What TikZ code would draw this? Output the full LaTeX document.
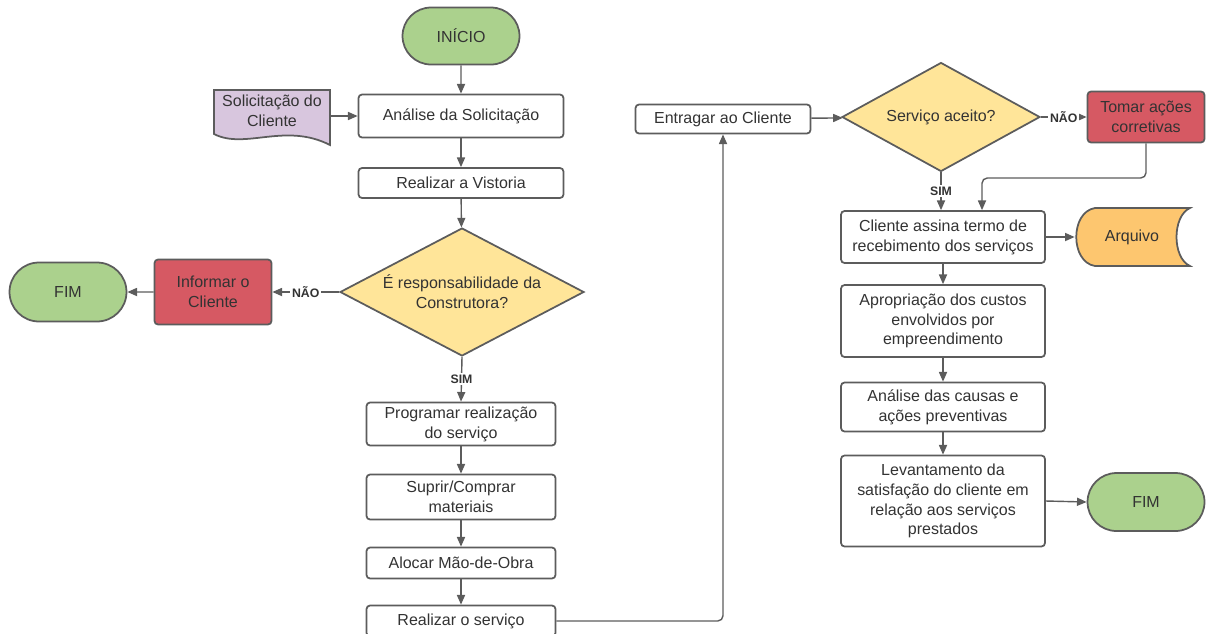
\documentclass[tikz,border=0pt]{standalone}
\usepackage{fontspec}
\setmainfont{Liberation Sans}
\usepackage{xcolor}
\usepackage{tikz}
\usetikzlibrary{%
  shapes.geometric,
  shapes.misc,
  arrows.meta,
  positioning,
  calc}
\definecolor{termgreen}{RGB}{171,209,141}
\definecolor{actred}{RGB}{214,89,99}
\definecolor{decyellow}{RGB}{255,229,153}
\definecolor{docpurple}{RGB}{216,198,222}
\definecolor{arqorange}{RGB}{253,198,111}
\definecolor{linegray}{RGB}{92,92,92}
\definecolor{textgray}{RGB}{51,51,51}
\tikzset{
  %% Plain process boxes
  procbox/.style={
    rectangle, rounded corners=2pt,
    draw=linegray, fill=white, line width=1pt,
    align=center, inner sep=0pt, text=textgray,
    font=\fontsize{9.1}{11.3}\selectfont},
  %% Corrective / warning boxes
  actbox/.style={
    procbox, fill=actred},
  %% Start / end terminals
  termbox/.style={
    rounded rectangle, draw=linegray, fill=termgreen,
    line width=1pt, inner sep=0pt, text=textgray,
    minimum width=2.34cm, minimum height=1.14cm,
    font=\fontsize{9.1}{11.3}\selectfont},
  %% Decision diamond
  decbox/.style={
    diamond, draw=linegray, fill=decyellow,
    line width=1pt, inner sep=0pt, align=center, text=textgray,
    font=\fontsize{9.1}{11.3}\selectfont},
  %% Free text on drawn shapes
  shapetext/.style={
    align=center, inner sep=0pt, text=textgray,
    font=\fontsize{9.1}{11.3}\selectfont},
  shapeline/.style={draw=linegray, line width=1pt},
  %% Arrows and their labels
  arrow/.style={-{Triangle[length=5.5pt,width=4.6pt]}, line width=0.8pt, linegray},
  plainline/.style={line width=0.8pt, linegray},
  yesno/.style={fill=white, inner sep=1pt, text=textgray,
    font=\fontsize{7}{8}\selectfont\bfseries},
}
\begin{document}
\begin{tikzpicture}[x=0.02cm, y=-0.02cm]

  \useasboundingbox (0,0) rectangle (1206,633);

  %% Left column
  \node[termbox] (ini) at (461,36) {INÍCIO};

  \draw[shapeline, fill=docpurple] (214,134) -- (214,90) -- (330,90) -- (330,145)
        .. controls (285,122) and (245,150) .. (214,134) -- cycle;
  \node[shapetext, minimum width=2.32cm] (sol) at (272,111)
        {Solicitação do\\ Cliente};

  \node[procbox, minimum width=4.1cm, minimum height=0.86cm] (ana) at (461,116)
        {Análise da Solicitação};

  \node[procbox, minimum width=4.1cm, minimum height=0.6cm] (vist) at (461,183)
        {Realizar a Vistoria};

  \node[decbox, aspect=1.9, minimum width=4.88cm, minimum height=2.56cm] (resp) at (462,292)
        {É responsabilidade da\\ Construtora?};

  \node[actbox, minimum width=2.34cm, minimum height=1.3cm] (inf) at (213,292)
        {Informar o\\ Cliente};

  \node[termbox, minimum height=1.18cm] (fima) at (68,292) {FIM};

  \node[procbox, minimum width=3.78cm, minimum height=0.86cm] (prog) at (461,424)
        {Programar realização\\ do serviço};

  \node[procbox, minimum width=3.78cm, minimum height=0.9cm] (sup) at (461,497)
        {Suprir/Comprar\\ materiais};

  \node[procbox, minimum width=3.78cm, minimum height=0.62cm] (aloc) at (461,563)
        {Alocar Mão-de-Obra};

  \node[procbox, minimum width=3.78cm, minimum height=0.62cm] (real) at (461,621)
        {Realizar o serviço};

  %% Right part
  \node[procbox, minimum width=3.5cm, minimum height=0.58cm] (ent) at (723,119)
        {Entragar ao Cliente};

  \node[decbox, aspect=1.82, minimum width=3.96cm, minimum height=2.18cm] (aceito) at (941,117)
        {Serviço aceito?};

  \node[actbox, minimum width=2.34cm, minimum height=1.02cm] (tom) at (1146,117)
        {Tomar ações\\ corretivas};

  \node[procbox, minimum width=4.08cm, minimum height=1.04cm] (cli) at (943,237)
        {Cliente assina termo de\\ recebimento dos serviços};

  \draw[shapeline, fill=arqorange] (1095,208) -- (1190,208)
        .. controls (1172,216) and (1172,258) .. (1190,266) -- (1095,266)
        .. controls (1070,262) and (1070,212) .. (1095,208) -- cycle;
  \node[shapetext, minimum width=2.28cm, minimum height=1.16cm] (arq) at (1132,237)
        {Arquivo};

  \node[procbox, minimum width=4.08cm, minimum height=1.44cm] (apr) at (943,321)
        {Apropriação dos custos\\ envolvidos por\\ empreendimento};

  \node[procbox, minimum width=4.08cm, minimum height=0.98cm] (caus) at (943,407)
        {Análise das causas e\\ ações preventivas};

  \node[procbox, minimum width=4.08cm, minimum height=1.82cm] (lev) at (943,501)
        {Levantamento da\\ satisfação do cliente em\\ relação aos serviços\\ prestados};

  \node[termbox, minimum height=1.16cm] (fimb) at (1146,502) {FIM};

  %% Main flow
  \draw[arrow] (ini) -- (ana);
  \draw[arrow] (sol.east |- ana.west) -- (ana.west);
  \draw[arrow] (ana) -- (vist);
  \draw[arrow] (vist) -- (resp);
  \draw[arrow] (resp.west) -- node[yesno]{NÃO} (inf.east);
  \draw[arrow] (inf) -- (fima);
  \draw[arrow] (resp.south) -- node[yesno]{SIM} (prog.north);
  \draw[arrow] (prog) -- (sup);
  \draw[arrow] (sup) -- (aloc);
  \draw[arrow] (aloc) -- (real);
  \draw[arrow, rounded corners=3pt] (real.east) -| (ent.south);
  \draw[arrow] (ent) -- (aceito);
  \draw[arrow] (aceito.east) -- node[yesno]{NÃO} (tom.west);
  \draw[arrow] (aceito.south) -- node[yesno]{SIM} (aceito.south |- cli.north);

  %% Back from corrective actions
  \coordinate (tomturn) at (982,178);
  \draw[arrow, rounded corners=3pt] (tom.south) |- (tomturn) -- (tomturn |- cli.north);

  \draw[arrow] (cli.east) -- (arq.west);
  \draw[arrow] (cli) -- (apr);
  \draw[arrow] (apr) -- (caus);
  \draw[arrow] (caus) -- (lev);
  \draw[arrow] (lev.east) -- (fimb.west);

\end{tikzpicture}
\end{document}
